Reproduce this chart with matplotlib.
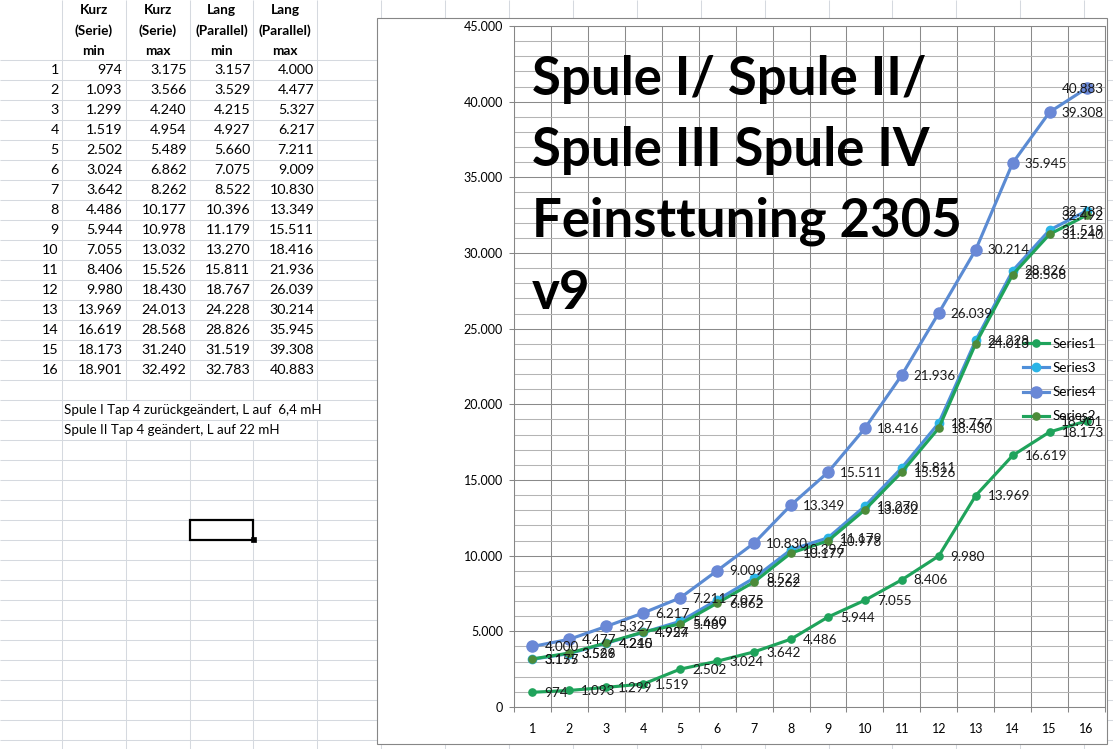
import matplotlib
matplotlib.use("Agg")
import matplotlib.pyplot as plt
from matplotlib.patches import Rectangle
from matplotlib.ticker import MultipleLocator, FixedLocator, FuncFormatter, NullFormatter

plt.rcParams['font.family'] = ['Lato', 'DejaVu Sans']

W, H = 1113, 749

# ---------------- data ----------------
steps = list(range(1, 17))
kurz_min = [974, 1093, 1299, 1519, 2502, 3024, 3642, 4486, 5944, 7055, 8406, 9980, 13969, 16619, 18173, 18901]
kurz_max = [3175, 3566, 4240, 4954, 5489, 6862, 8262, 10177, 10978, 13032, 15526, 18430, 24013, 28568, 31240, 32492]
lang_min = [3157, 3529, 4215, 4927, 5660, 7075, 8522, 10396, 11179, 13270, 15811, 18767, 24228, 28826, 31519, 32783]
lang_max = [4000, 4477, 5327, 6217, 7211, 9009, 10830, 13349, 15511, 18416, 21936, 26039, 30214, 35945, 39308, 40883]

col_headers = [["Kurz", "(Serie)", "min"], ["Kurz", "(Serie)", "max"],
               ["Lang", "(Parallel)", "min"], ["Lang", "(Parallel)", "max"]]
series_names = ["Series1", "Series2", "Series3", "Series4"]
notes = ["Spule I Tap 4 zurückgeändert, L auf  6,4 mH", "Spule II Tap 4 geändert, L auf 22 mH"]
title_lines = ["Spule I/ Spule II/", "Spule III Spule IV", "Feinsttuning 2305", "v9"]
y_max, y_major, y_minor = 45000, 5000, 1000


def de(v):
    return f"{int(round(v)):,}".replace(",", ".")


fig = plt.figure(figsize=(W / 100, H / 100), dpi=100)
fig.patch.set_facecolor("white")

# ---------------- spreadsheet background ----------------
bg = fig.add_axes([0, 0, 1, 1])
bg.set_xlim(0, W)
bg.set_ylim(H, 0)
bg.axis("off")
grid_c = "#d5d9df"
row_h = 20
row0 = 59.5
n_rows = int((H - row0) // row_h) + 1
bg.hlines([row0 + row_h * k for k in range(n_rows)], 0, W, color=grid_c, lw=0.75, zorder=1)
col_w = 63.9
col0 = 61.7
col_x = [col0 + col_w * k for k in range(17)]
note_top = row0 + row_h * 17
for i, cx in enumerate(col_x):
    if i in (1, 2, 3):
        bg.vlines(cx, 0, note_top, color=grid_c, lw=0.75, zorder=1)
        bg.vlines(cx, note_top + 2 * row_h, H, color=grid_c, lw=0.75, zorder=1)
    elif i == 4:
        bg.vlines(cx, 0, note_top, color=grid_c, lw=0.75, zorder=1)
        bg.vlines(cx, note_top + row_h, H, color=grid_c, lw=0.75, zorder=1)
    else:
        bg.vlines(cx, 0, H, color=grid_c, lw=0.75, zorder=1)

cell_fs = 10.3
# header
for j, hdr in enumerate(col_headers):
    cxm = col_x[j] + col_w / 2
    for k, line in enumerate(hdr):
        bg.text(cxm, 10.5 + 20.3 * k, line, ha="center", va="center",
                fontsize=9.8, fontweight="bold", color="#000000", zorder=3)
# rows
cols = [kurz_min, kurz_max, lang_min, lang_max]
for i, s in enumerate(steps):
    yc = row0 + row_h * i + row_h / 2
    bg.text(col_x[0] - 3, yc, str(s), ha="right", va="center", fontsize=cell_fs, zorder=3)
    for j, colv in enumerate(cols):
        bg.text(col_x[j + 1] - 3, yc, de(colv[i]), ha="right", va="center",
                fontsize=cell_fs, zorder=3)
for k, note in enumerate(notes):
    bg.text(col_x[0] + 2.5, note_top + row_h * k + row_h / 2, note, ha="left", va="center",
            fontsize=9.6, zorder=3)
# selected cell
sel_y = row0 + row_h * 23
bg.add_patch(Rectangle((col_x[2], sel_y), col_w, row_h, fill=False, ec="black", lw=1.6, zorder=4))
bg.add_patch(Rectangle((col_x[3] - 2.5, sel_y + row_h - 2.5), 5, 5, fc="black", ec="black", lw=0.5, zorder=4))

# chart frame
bg.add_patch(Rectangle((377, 18), 730, 726, fc="white", ec="#868686", lw=0.8, zorder=5))

# ---------------- chart ----------------
ax = fig.add_axes([514 / W, (H - 707) / H, (1105 - 514) / W, (707 - 26) / H])
ax.patch.set_alpha(0)
ax.set_xlim(0.5, 16.5)
ax.set_ylim(0, y_max)
ax.set_axisbelow(True)

ax.yaxis.set_major_locator(MultipleLocator(y_major))
ax.yaxis.set_minor_locator(MultipleLocator(y_minor))
ax.yaxis.set_major_formatter(FuncFormatter(lambda v, p: de(v)))
ax.yaxis.set_minor_formatter(NullFormatter())

ax.xaxis.set_major_locator(FixedLocator([s - 0.5 for s in steps] + [steps[-1] + 0.5]))
ax.xaxis.set_major_formatter(NullFormatter())
ax.xaxis.set_minor_locator(FixedLocator(steps))
ax.xaxis.set_minor_formatter(FuncFormatter(lambda v, p: str(int(round(v)))))

axis_c = "#868686"
tick_fs = 9.0
lab_fs = 9.7
ax.tick_params(axis="x", which="major", length=3.6, direction="out", color=axis_c, width=0.75)
ax.tick_params(axis="x", which="minor", length=0, pad=11.5, labelsize=tick_fs, labelcolor="#000000")
ax.tick_params(axis="y", which="major", length=3.6, direction="out", color=axis_c, width=0.75,
               pad=4.3, labelsize=tick_fs, labelcolor="#000000")
ax.tick_params(axis="y", which="minor", length=0)

ax.grid(True, axis="y", which="minor", color="#b4b4b4", lw=0.75)
ax.grid(True, axis="y", which="major", color="#8a8a8a", lw=0.75)
ax.grid(True, axis="x", which="major", color="#8a8a8a", lw=0.75)
for sp in ax.spines.values():
    sp.set_color(axis_c)
    sp.set_linewidth(0.75)

specs = [
    ("Series1", kurz_min, "#1fa35b", "#1fa35b", 5.2),
    ("Series3", lang_min, "#4e8fd9", "#2bb4e6", 6.0),
    ("Series4", lang_max, "#5b8bd3", "#6a88d6", 8.0),
    ("Series2", kurz_max, "#1fa35b", "#4d8b3a", 5.2),
]
handles = []
for z, (name, vals, lc, mc, ms) in enumerate(specs):
    ln, = ax.plot(steps, vals, color=lc, lw=2.25, marker="o", ms=ms, mfc=mc, mec=mc,
                  solid_joinstyle="round", zorder=3 + z, label=name, clip_on=False)
    handles.append(ln)
    for x, v in zip(steps, vals):
        if x == steps[-1]:
            # Excel pulls the last label back inside the chart area
            ax.annotate(de(v), (x, v), xytext=(12.3, -0.5), textcoords="offset points",
                        ha="right", va="center", fontsize=lab_fs, color="#1a1a1a", zorder=10)
        else:
            ax.annotate(de(v), (x, v), xytext=(8.6, -0.5), textcoords="offset points",
                        ha="left", va="center", fontsize=lab_fs, color="#1a1a1a", zorder=10)

ax.legend(handles, [h.get_label() for h in handles], loc="upper left",
          bbox_to_anchor=(1023 / W, 1 - 338 / H), bbox_transform=fig.transFigure,
          frameon=False, fontsize=lab_fs, handlelength=1.95, handletextpad=0.25,
          labelspacing=0.9, borderpad=0, borderaxespad=0, numpoints=1)

# title
baselines = [95, 166, 237, 309]
for line, b in zip(title_lines, baselines):
    fig.text(532 / W, 1 - b / H, line, ha="left", va="baseline", fontsize=38,
             fontweight="bold", color="#000000", zorder=20)

fig.savefig("out.png", dpi=100, facecolor="white")
